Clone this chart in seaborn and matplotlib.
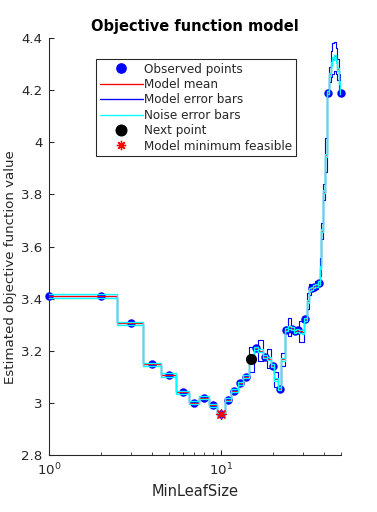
import numpy as np
import pandas as pd
import matplotlib
matplotlib.use('Agg')
import matplotlib.pyplot as plt
import seaborn as sns
from matplotlib.lines import Line2D
from matplotlib.ticker import NullFormatter

# observed evaluations (MinLeafSize, objective)
obs_leaf = [1, 2, 3, 4, 5, 6, 7, 8, 9, 10, 11, 12, 13, 14, 16, 18, 20, 22,
            24, 26, 27, 28, 31, 34, 35, 37, 42, 50]
obs_val = [3.41, 3.41, 3.305, 3.148, 3.107, 3.04, 3.0, 3.02, 2.99, 2.957,
           3.012, 3.046, 3.076, 3.10, 3.21, 3.177, 3.143, 3.055,
           3.28, 3.285, 3.275, 3.278, 3.32, 3.44, 3.445, 3.46, 4.19, 4.19]

# model evaluated at every integer MinLeafSize
leaf = list(range(1, 51))
model_mean = [3.41, 3.41, 3.305, 3.148, 3.107, 3.04, 3.0, 3.02, 2.99, 2.957,
              3.012, 3.046, 3.076, 3.10, 3.168, 3.21, 3.20, 3.177, 3.17, 3.143,
              3.09, 3.055, 3.167, 3.28, 3.29, 3.285, 3.275, 3.278, 3.275, 3.272,
              3.32, 3.39, 3.435, 3.44, 3.445, 3.452, 3.46, 3.52, 3.66, 3.81,
              3.95, 4.19, 4.26, 4.30, 4.32, 4.33, 4.31, 4.28, 4.23, 4.19]
model_sd = [0, 0, 0, 0, 0, 0, 0, 0, 0, 0,
            0, 0, 0, 0, 0.048, 0, 0.04, 0, 0.035, 0,
            0.03, 0, 0.025, 0, 0.035, 0, 0, 0, 0.04, 0.04,
            0, 0.03, 0.02, 0, 0, 0.015, 0, 0.035, 0.03, 0.03,
            0.065, 0, 0.03, 0.05, 0.06, 0.055, 0.05, 0.04, 0.03, 0]
noise_sd = 0.006

next_leaf = [15]
next_val = [3.168]
best_leaf = [10]
best_val = [2.957]

yticks = [2.8, 3.0, 3.2, 3.4, 3.6, 3.8, 4.0, 4.2, 4.4]
ytick_labels = ['2.8', '3', '3.2', '3.4', '3.6', '3.8', '4', '4.2', '4.4']

mean = np.array(model_mean)
sd = np.array(model_sd)
lines = pd.concat([
    pd.DataFrame({'leaf': leaf, 'val': mean + sd, 'line': 'model_up'}),
    pd.DataFrame({'leaf': leaf, 'val': mean - sd, 'line': 'model_lo'}),
    pd.DataFrame({'leaf': leaf, 'val': mean, 'line': 'mean'}),
    pd.DataFrame({'leaf': leaf, 'val': mean + noise_sd, 'line': 'noise_up'}),
    pd.DataFrame({'leaf': leaf, 'val': mean - noise_sd, 'line': 'noise_lo'}),
])
colors = {'model_up': 'blue', 'model_lo': 'blue', 'mean': 'red',
          'noise_up': 'cyan', 'noise_lo': 'cyan'}
widths = {'model_up': 0.85, 'model_lo': 0.85, 'mean': 0.85,
          'noise_up': 1.0, 'noise_lo': 1.0}

sns.set_style('ticks')
plt.rcParams['font.family'] = ['DejaVu Sans']
dark = '#262626'

fig, ax = plt.subplots(figsize=(377/96, 512/96), dpi=96)
fig.subplots_adjust(left=49/377, right=341/377, bottom=1-455/512, top=1-38/512)
ax.set_xscale('log')

sns.scatterplot(x=obs_leaf, y=obs_val, color='blue', edgecolor='blue',
                marker='o', s=40, linewidth=0, ax=ax, zorder=2, clip_on=False)
for i, name in enumerate(colors):
    sub = lines[lines['line'] == name]
    sns.lineplot(data=sub, x='leaf', y='val', color=colors[name],
                 lw=widths[name], drawstyle='steps-mid', estimator=None,
                 sort=False, ax=ax, zorder=3 + i)
sns.scatterplot(x=next_leaf, y=next_val, color='black', edgecolor='black',
                marker='o', s=70, linewidth=0, ax=ax, zorder=10)
ax.scatter(best_leaf, best_val, color='red', marker=(8, 2, 0), s=55,
           linewidth=1.0, zorder=11)

ax.set_xlim(1, 50)
ax.set_ylim(2.8, 4.4)
ax.set_yticks(yticks)
ax.set_yticklabels(ytick_labels)
ax.xaxis.set_minor_formatter(NullFormatter())

sns.despine(ax=ax)
for sp in ['left', 'bottom']:
    ax.spines[sp].set_color(dark)
    ax.spines[sp].set_linewidth(0.8)
ax.tick_params(which='major', direction='in', length=4, width=0.8,
               colors=dark, labelsize=10, pad=5)
ax.tick_params(which='minor', direction='in', length=2.5, width=0.6,
               colors=dark)

ax.set_title('Objective function model', fontsize=11, fontweight='bold',
             color='black', pad=5)
ax.set_xlabel('MinLeafSize', fontsize=11, color=dark, labelpad=4)
ax.set_ylabel('Estimated objective function value', fontsize=10, color=dark)
ax.yaxis.set_label_coords(-0.108, 0.45)

handles = [
    Line2D([], [], color='blue', marker='o', linestyle='none', markersize=7),
    Line2D([], [], color='red', lw=1),
    Line2D([], [], color='blue', lw=1),
    Line2D([], [], color='cyan', lw=1),
    Line2D([], [], color='black', marker='o', linestyle='none', markersize=8),
    Line2D([], [], color='red', marker=(8, 2, 0), linestyle='none',
           markersize=7, markeredgewidth=1),
]
labels = ['Observed points', 'Model mean', 'Model error bars',
          'Noise error bars', 'Next point', 'Model minimum feasible']
leg = ax.legend(handles, labels, loc='upper left',
                bbox_to_anchor=(96/377, 1-59/512), bbox_transform=fig.transFigure,
                fontsize=9, frameon=True, fancybox=False, edgecolor=dark,
                framealpha=1, handlelength=3.6, handletextpad=0.1,
                labelspacing=0.2, borderpad=0.3, borderaxespad=0)
leg.get_frame().set_linewidth(0.8)

fig.savefig('out.png', dpi=96)
